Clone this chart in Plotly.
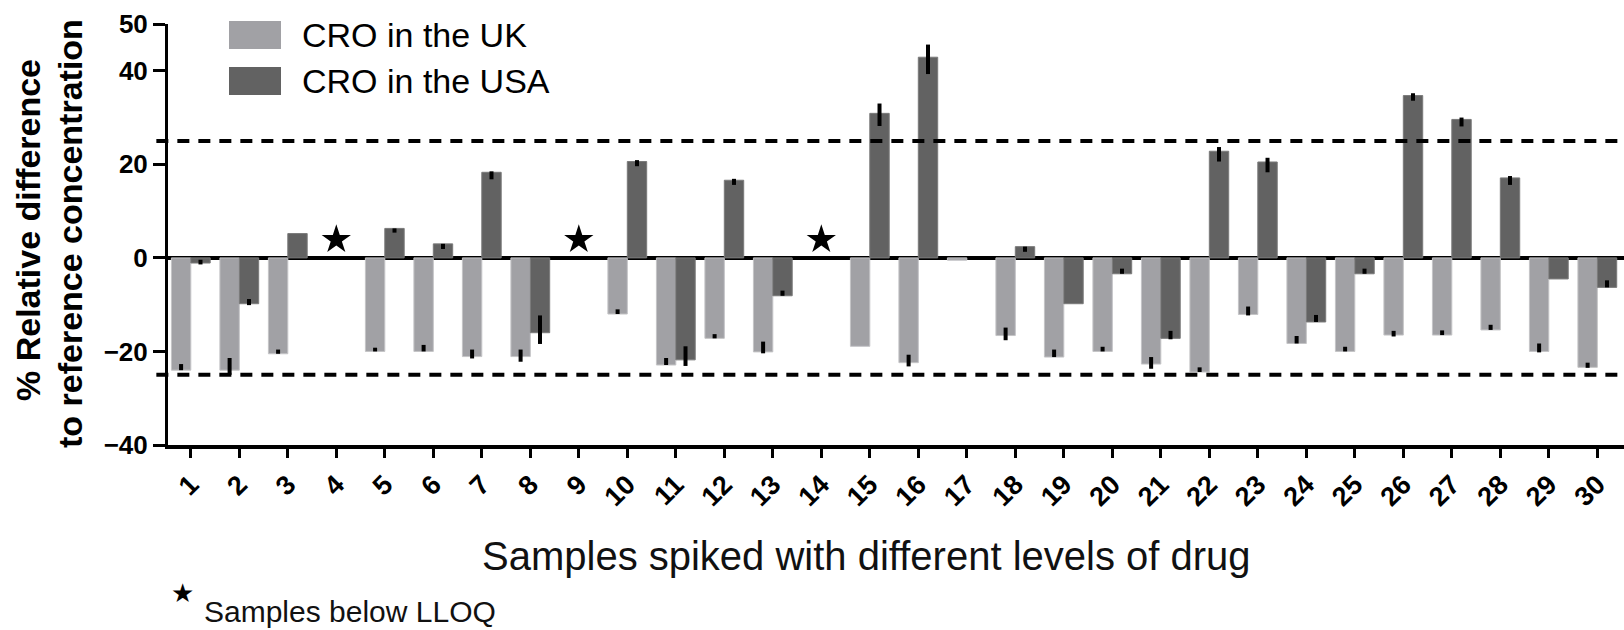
import plotly.graph_objects as go

# ---------------- data ----------------
samples = list(range(1, 31))
tick_labels = [str(s) for s in samples]

uk_values = [-24.0, -24.0, -20.5, None, -20.0, -20.0, -21.1, -21.1, None, -12.0,
             -22.9, -17.2, -20.1, None, -18.9, -22.4, -0.5, -16.6, -21.2, -20.0,
             -22.7, -24.4, -12.1, -18.3, -20.0, -16.5, -16.5, -15.4, -20.0, -23.4]
uk_err_up = [1.3, 2.6, 0.9, 0, 0.8, 1.4, 1.5, 1.5, 0, 1.0,
             1.5, 0.9, 2.2, 0, 0, 1.7, 0, 1.7, 1.6, 1.0,
             1.5, 1.0, 1.7, 1.6, 1.0, 0.9, 1.0, 1.1, 1.7, 1.0]
uk_err_down = [0, 1.0, 0, 0, 0, 0, 0.4, 1.1, 0, 0,
               0, 0, 0.3, 0, 0, 0.8, 0, 1.0, 0, 0,
               1.0, 0, 0.2, 0, 0, 0.3, 0, 0, 0.2, 0.1]

usa_values = [-1.1, -9.8, 5.2, None, 6.3, 3.0, 18.3, -16.0, None, 20.6,
              -21.8, 16.6, -8.1, None, 30.9, 42.9, None, 2.4, -9.8, -3.4,
              -17.2, 22.8, 20.5, -13.7, -3.4, 34.7, 29.6, 17.1, -4.5, -6.3]
usa_err_up = [0.7, 1.0, 0, 0, 0, 0, 0.2, 3.7, 0, 0.3,
              2.9, 0.3, 1.1, 0, 2.1, 2.7, 0, 0, 0, 1.1,
              1.6, 0.9, 0.9, 1.5, 1.1, 0.5, 0.4, 0.4, 0, 1.5]
usa_err_down = [0.3, 0.3, 0, 0, 0.9, 1.1, 1.5, 2.4, 0, 1.0,
                1.3, 1.0, 0, 0, 2.7, 3.6, 0, 1.1, 0, 0,
                0.2, 2.2, 2.2, 0, 0, 1.1, 1.5, 1.5, 0, 0]

below_lloq = [4, 9, 14]
star_level = [3.9, 3.9, 3.9]

acceptance_limits = [25, -25]
y_ticks = [-40, -20, 0, 20, 40, 50]

series_names = ["CRO in the UK", "CRO in the USA"]
uk_color = "#a1a1a5"
usa_color = "#626262"

FONT = "Liberation Sans"

# plot-area geometry helpers (pixels -> paper)
PLOT_L, PLOT_W, PLOT_B, PLOT_H = 168, 1456, 445, 421


def px_x(px):
    return (px - PLOT_L) / PLOT_W


def px_y(py):
    return (PLOT_B - py) / PLOT_H


# ---------------- figure ----------------
fig = go.Figure()

fig.add_trace(go.Bar(
    x=samples, y=uk_values, name=series_names[0],
    marker=dict(color=uk_color, line=dict(color="#c4c4c6", width=1)),
    error_y=dict(type="data", symmetric=False, array=uk_err_up,
                 arrayminus=uk_err_down, color="black", thickness=4, width=0),
    showlegend=False,
))
fig.add_trace(go.Bar(
    x=samples, y=usa_values, name=series_names[1],
    marker=dict(color=usa_color, line=dict(color="#7a7a7a", width=1)),
    error_y=dict(type="data", symmetric=False, array=usa_err_up,
                 arrayminus=usa_err_down, color="black", thickness=4, width=0),
    showlegend=False,
))
fig.add_trace(go.Scatter(
    x=below_lloq, y=star_level, mode="markers",
    marker=dict(symbol="star", size=22, color="black", line=dict(width=0)),
    showlegend=False, hoverinfo="skip",
))

for lim in acceptance_limits:
    fig.add_shape(type="line", xref="paper", yref="y", x0=-0.008, x1=1,
                  y0=lim, y1=lim,
                  line=dict(color="black", width=4, dash="12px,9px"))

# custom legend
legend_rows = [(series_names[0], uk_color, 21, 49),
               (series_names[1], usa_color, 67, 95)]
for name, col, ytop, ybot in legend_rows:
    fig.add_shape(type="rect", xref="paper", yref="paper",
                  x0=px_x(229), x1=px_x(281), y0=px_y(ybot), y1=px_y(ytop),
                  fillcolor=col, line=dict(width=0))
    fig.add_annotation(xref="paper", yref="paper", x=px_x(300), y=px_y((ytop + ybot) / 2),
                       text=name, showarrow=False, xanchor="left", yanchor="middle",
                       font=dict(family=FONT, size=34, color="black"))

# y title (two lines)
fig.add_annotation(xref="paper", yref="paper", x=px_x(28), y=px_y(230),
                   text="% Relative difference", textangle=-90, showarrow=False,
                   xanchor="center", yanchor="middle",
                   font=dict(family=FONT, size=34, color="black", weight="bold"))
fig.add_annotation(xref="paper", yref="paper", x=px_x(70), y=px_y(234),
                   text="to reference concentration", textangle=-90, showarrow=False,
                   xanchor="center", yanchor="middle",
                   font=dict(family=FONT, size=34, color="black", weight="bold"))

# x title
fig.add_annotation(xref="paper", yref="paper", x=px_x(866), y=px_y(556),
                   text="Samples spiked with different levels of drug", showarrow=False,
                   xanchor="center", yanchor="middle",
                   font=dict(family=FONT, size=40, color="#111111"))

# footnote
fig.add_annotation(xref="paper", yref="paper", x=px_x(182), y=px_y(593),
                   text="★", showarrow=False, xanchor="center", yanchor="middle",
                   font=dict(family="DejaVu Sans", size=26, color="black"))
fig.add_annotation(xref="paper", yref="paper", x=px_x(202), y=px_y(630),
                   text="Samples below LLOQ", showarrow=False, xanchor="left", yanchor="bottom",
                   font=dict(family=FONT, size=30, color="#111111"))

fig.update_layout(
    width=1624, height=630,
    margin=dict(l=PLOT_L, r=0, t=24, b=185, pad=0),
    plot_bgcolor="white", paper_bgcolor="white",
    barmode="group", bargap=0.2, bargroupgap=0,
    font=dict(family=FONT, color="black"),
    xaxis=dict(range=[0.53, 30.55], tickmode="array", tickvals=samples, ticktext=tick_labels,
               tickangle=-45, ticks="outside", ticklen=9, tickwidth=3, tickcolor="black",
               showline=True, linewidth=4, linecolor="black", showgrid=False, zeroline=False,
               tickfont=dict(family=FONT, size=27, color="black", weight="bold")),
    yaxis=dict(range=[-40, 50], tickmode="array", tickvals=y_ticks,
               ticks="outside", ticklen=12, tickwidth=3, tickcolor="black",
               showline=True, linewidth=3, linecolor="black", showgrid=False,
               zeroline=True, zerolinewidth=4, zerolinecolor="black",
               tickfont=dict(family=FONT, size=26, color="black", weight="bold")),
)

fig.write_html("out.html")
